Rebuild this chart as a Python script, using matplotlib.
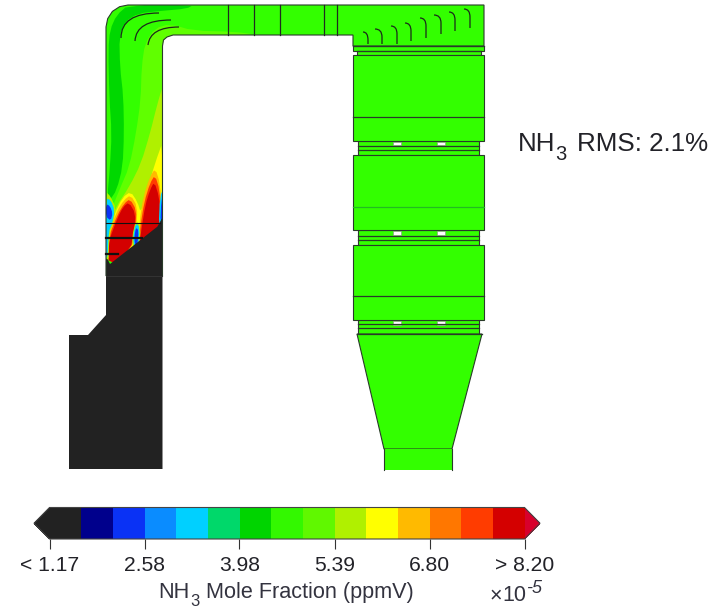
import numpy as np
import matplotlib
matplotlib.use("Agg")
import matplotlib.pyplot as plt
from matplotlib.colors import ListedColormap, BoundaryNorm
from matplotlib.cm import ScalarMappable
from matplotlib.patches import PathPatch, Polygon, Rectangle
from matplotlib.path import Path

plt.rcParams['font.family'] = ['Liberation Sans', 'DejaVu Sans']

# ---- colour scale ----
band_colors = ['#222222', '#00008c', '#0a32f5', '#0a8cff', '#00d0ff', '#00d86a', '#00d400',
               '#33f800', '#60f800', '#b0f000', '#ffff00', '#ffba00', '#ff7700', '#ff3c00', '#d40000']
under_color = '#222222'
over_color = '#d8002c'
tick_values = [1.17, 2.58, 3.98, 5.39, 6.80, 8.20]
tick_labels = ['< 1.17', '2.58', '3.98', '5.39', '6.80', '> 8.20']
FIELD = '#33ff00'
TEXT = '#222228'

# ---- geometry (image pixels) ----
left_duct = [(106, 276), (106, 27), (107.7, 18.6), (112.4, 11.4), (119.6, 6.7), (128, 5), (353, 5), (484, 5), (484, 46),
             (353, 46), (353, 35), (173, 35), (167, 37), (163.5, 40), (162.5, 46), (162.5, 276)]
base_block = [(106, 276), (106, 315), (88, 335), (69, 335), (69, 469), (162.5, 469), (162.5, 276)]
right_blocks = [(353, 55, 484, 141), (353, 155, 484, 230), (353, 245, 484, 320)]
necks = [(353, 46, 484, 51), (357, 51, 481, 55), (358, 141, 479, 155), (358, 230, 479, 245), (358, 320, 479, 334)]
funnel = [(357, 334), (482, 334), (452, 449), (384, 449)]
outlet = [(384, 449), (384, 470), (452, 470), (452, 449)]
windows = [(393, 141.5, 401, 145), (437, 141.5, 445, 145), (393, 231, 401, 235), (437, 231, 445, 235),
           (393, 321, 401, 324.5), (437, 321, 445, 324.5)]
dark_hlines = [(353, 484, 46), (357, 481, 51), (353, 484, 117), (358, 479, 146), (358, 479, 150),
               (358, 479, 236), (358, 479, 240), (353, 484, 296), (358, 479, 324), (358, 479, 328), (357, 482, 334)]
soft_hlines = [(353, 484, 207)]
duct_dividers = [228, 254, 280, 324, 337]
corner_vanes = [[(121, 38), (121, 13), (159, 13)], [(135, 41), (136, 20), (171, 20)], [(148, 45), (150, 27), (179, 27)]]
hook_vanes = [(363, 368, 32, 44), (375, 382, 29, 44), (391, 397, 26, 44), (405, 411, 23, 41),
              (420, 426, 18, 38), (434, 441, 15, 34), (449, 455, 12, 31), (464, 470, 9, 28)]

# contour layers of the left duct, coordinates in 3x crop pixels of the crop at (60, 0)
layers = [
    ('#00d800', [(205, 15), (400, 15), (380, 26), (300, 33), (235, 40), (195, 65), (178, 110), (180, 200), (190, 290),
                 (192, 400), (188, 500), (170, 570), (150, 600), (142, 590), (150, 500), (155, 400), (148, 290), (145, 150),
                 (150, 90), (170, 45)]),
    ('#60ff00', [(340, 105), (600, 105), (520, 95), (400, 92), (330, 72), (285, 85), (255, 130), (245, 200), (242, 300),
                 (228, 400), (208, 500), (178, 570), (150, 640), (200, 900), (310, 900), (310, 130)]),
    ('#b0f000', [(310, 250), (290, 320), (270, 400), (243, 490), (208, 560), (168, 620), (150, 670), (200, 900), (310, 900)]),
    ('#ffff00', [(310, 420), (285, 490), (260, 575), (243, 640), (232, 605), (212, 575), (188, 592), (162, 645), (146, 690),
                 (142, 800), (310, 800)]),
    ('#ffba00', [(286, 505), (300, 550), (306, 640), (298, 690), (232, 780), (238, 670), (250, 590), (270, 530)]),
    ('#ffba00', [(212, 585), (232, 620), (230, 680), (214, 752), (146, 805), (146, 700), (170, 635), (192, 600)]),
    ('#ff3c00', [(285, 525), (299, 570), (303, 640), (297, 690), (232, 775), (241, 680), (253, 605), (270, 550)]),
    ('#ff3c00', [(210, 597), (229, 630), (227, 680), (212, 752), (146, 803), (146, 712), (172, 645), (193, 610)]),
    ('#d40000', [(283, 545), (297, 590), (301, 640), (295, 687), (232, 772), (244, 690), (256, 615), (270, 570)]),
    ('#d40000', [(207, 607), (226, 640), (224, 685), (210, 752), (146, 800), (146, 725), (172, 655), (190, 620)]),
    ('#b0f000', [(138, 575), (152, 590), (168, 625), (160, 665), (148, 700), (145, 790), (138, 790)]),
    ('#00d0ff', [(138, 595), (152, 600), (164, 630), (157, 670), (146, 695), (143, 770), (138, 775)]),
    ('#0a32f5', [(138, 612), (150, 618), (158, 640), (152, 662), (138, 650)]),
    ('#b0f000', [(228, 660), (242, 680), (238, 745), (220, 750), (216, 710)]),
    ('#00d0ff', [(228, 668), (239, 682), (235, 740), (223, 745), (219, 710)]),
    ('#0a32f5', [(228, 682), (236, 692), (232, 735), (225, 735), (223, 710)]),
    ('#00d0ff', [(300, 590), (312, 560), (312, 680), (296, 680)]),
    ('#0a32f5', [(304, 600), (312, 580), (312, 670), (301, 670)]),
]
duct_base = [(150, 792), (292, 680), (306, 655), (312, 655), (312, 900), (130, 900), (130, 772), (143, 778)]
thin_duct_lines = [(106, 160, 223)]
faint_duct_lines = [(106, 162, 276)]
thick_duct_lines = [(106, 142, 238), (106, 118, 254)]


def crop_to_image(pts):
    return [(60 + x / 3, y / 3) for x, y in pts]


def smooth(pts, rounds=1):
    p = np.asarray(pts, float)
    for _ in range(rounds):
        q = np.roll(p, -1, axis=0)
        p = np.column_stack([0.75 * p + 0.25 * q, 0.25 * p + 0.75 * q]).reshape(-1, 2)
    return p


fig = plt.figure(figsize=(7.25, 6.10), dpi=100, facecolor='white')
ax = fig.add_axes([0, 0, 1, 1])
ax.set_xlim(0, 725)
ax.set_ylim(610, 0)
ax.axis('off')

EDGE = '#2a3a2a'
LW = 0.8


def box(b, fc=FIELD, z=2, lw=LW, ec=EDGE):
    ax.add_patch(Rectangle((b[0], b[1]), b[2] - b[0], b[3] - b[1], fc=fc, ec=ec, lw=lw, zorder=z))


# right-hand column
for b in necks:
    box(b, z=2)
for b in right_blocks:
    box(b, z=3)
ax.add_patch(Polygon(funnel, closed=True, fc=FIELD, ec=EDGE, lw=LW, zorder=3))
ax.add_patch(Polygon(outlet, closed=True, fc=FIELD, ec='none', zorder=3))
ax.plot(*zip(*[outlet[0], outlet[1]]), color=EDGE, lw=LW, zorder=4)
ax.plot(*zip(*[outlet[2], outlet[3]]), color=EDGE, lw=LW, zorder=4)
for b in windows:
    box(b, fc='white', z=5, lw=0.4, ec='#888888')

# duct with its contour layers
duct = Polygon(left_duct, closed=True, fc=FIELD, ec='none', zorder=2)
ax.add_patch(duct)
for colour, pts in layers:
    ax.add_patch(Polygon(smooth(crop_to_image(pts)), closed=True, fc=colour, ec='none', zorder=3, clip_path=duct))
ax.add_patch(Polygon(crop_to_image(duct_base), closed=True, fc=band_colors[0], ec='none', zorder=4, clip_path=duct))
ax.add_patch(Polygon(base_block, closed=True, fc=band_colors[0], ec='none', zorder=4))
ax.add_patch(Polygon(left_duct, closed=False, fc='none', ec=EDGE, lw=LW, zorder=6))

for x in duct_dividers:
    ax.plot([x, x], [5, 35], color='#202a20', lw=0.9, zorder=6)
for x0, x1, y in dark_hlines:
    ax.plot([x0, x1], [y, y], color=EDGE, lw=0.9, zorder=6)
for x0, x1, y in soft_hlines:
    ax.plot([x0, x1], [y, y], color='#22bb22', lw=0.9, zorder=6)
for x0, x1, y in thin_duct_lines:
    ax.plot([x0, x1], [y, y], color='#111111', lw=0.8, zorder=7)
for x0, x1, y in faint_duct_lines:
    ax.plot([x0, x1], [y, y], color='#333333', lw=0.8, zorder=7)
for x0, x1, y in thick_duct_lines:
    ax.plot([x0, x1], [y, y], color='#111111', lw=1.6, zorder=7)
for v in corner_vanes:
    ax.add_patch(PathPatch(Path(v, [Path.MOVETO, Path.CURVE3, Path.CURVE3]), fc='none', ec='#1a2a1a', lw=0.9, zorder=7))
for x0, x1, top, bot in hook_vanes:
    ax.add_patch(PathPatch(Path([(x0, top), (x1, top), (x1, top + 8), (x1, bot)],
                                [Path.MOVETO, Path.CURVE3, Path.CURVE3, Path.LINETO]),
                           fc='none', ec='#1a2a1a', lw=0.9, zorder=7))

# RMS annotation
ax.text(518, 151, 'NH', fontsize=18.7, color=TEXT, ha='left', va='baseline')
ax.text(555, 160, '3', fontsize=14.5, color=TEXT, ha='left', va='baseline')
ax.text(577, 151, 'RMS: 2.1%', fontsize=18.7, color=TEXT, ha='left', va='baseline')

# colour bar
boundaries = np.linspace(tick_values[0], tick_values[-1], len(band_colors) + 1)
cmap = ListedColormap(band_colors).with_extremes(under=under_color, over=over_color)
norm = BoundaryNorm(boundaries, cmap.N)
cax = fig.add_axes([34 / 725, 1 - 539 / 610, 506 / 725, 31.5 / 610])
cb = fig.colorbar(ScalarMappable(norm=norm, cmap=cmap), cax=cax, orientation='horizontal', extend='both',
                  extendfrac=15.5 / 475, ticks=tick_values, spacing='uniform', drawedges=False)
cb.outline.set_edgecolor('#444444')
cb.outline.set_linewidth(0.8)
cb.minorticks_off()
cb.set_ticks(tick_values, labels=tick_labels)
cax.tick_params(axis='x', length=7.5, width=0.8, color='#333333', pad=5, labelsize=15.2, labelcolor=TEXT)

# colour bar title and multiplier
ax.text(158.5, 598, 'NH', fontsize=15.6, color='#33333f', ha='left', va='baseline')
ax.text(190, 606, '3', fontsize=12, color='#33333f', ha='left', va='baseline')
ax.text(206, 598, 'Mole Fraction (ppmV)', fontsize=15.6, color='#33333f', ha='left', va='baseline')
ax.text(490, 601, '\u00d7', fontsize=15.5, color='#33333f', ha='left', va='baseline')
ax.text(502, 601, '10', fontsize=15.5, color='#33333f', ha='left', va='baseline')
ax.text(526, 593, '-5', fontsize=13, color='#33333f', ha='left', va='baseline', style='italic')

fig.savefig('out.png', dpi=100, facecolor='white')
